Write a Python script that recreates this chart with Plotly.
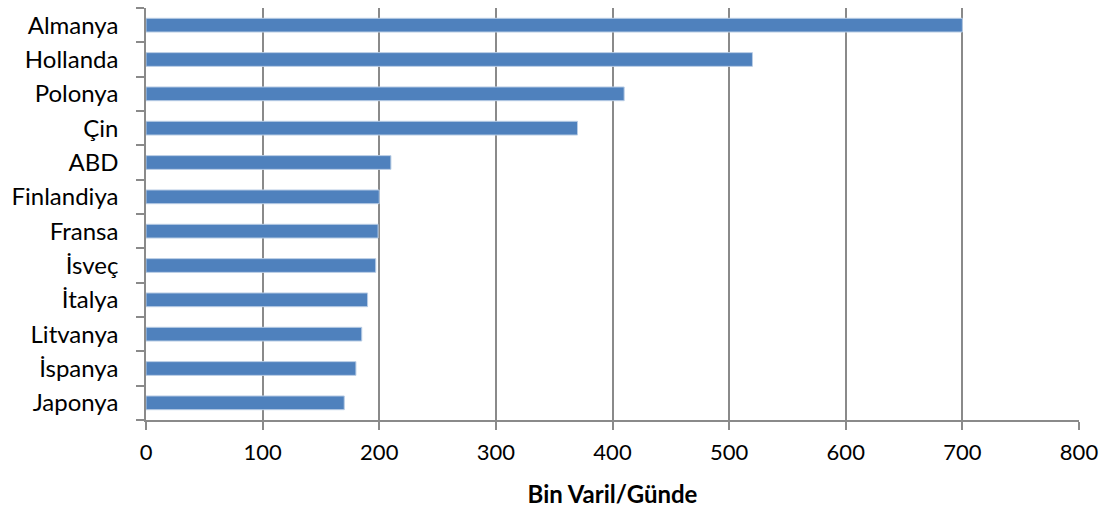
import plotly.graph_objects as go

countries = ["Almanya", "Hollanda", "Polonya", "Çin", "ABD", "Finlandiya",
             "Fransa", "İsveç", "İtalya", "Litvanya", "İspanya", "Japonya"]
values = [700, 520, 410, 370, 210, 200, 199, 197, 190, 185, 180, 170]
x_ticks = [0, 100, 200, 300, 400, 500, 600, 700, 800]
x_title = "Bin Varil/Günde"

grid_col = "#8a8a8a"
font_family = "Lato, 'Open Sans', sans-serif"

fig = go.Figure(go.Bar(
    x=values,
    y=countries,
    orientation="h",
    marker=dict(color="#4F81BD", line=dict(color="#b9cde5", width=1)),
))

fig.update_layout(
    width=1107,
    height=512,
    margin=dict(l=146, r=28, t=8, b=90),
    paper_bgcolor="white",
    plot_bgcolor="white",
    bargap=0.6,
    showlegend=False,
    font=dict(family=font_family, color="#000000", size=20),
)

fig.update_xaxes(
    range=[0, 800],
    tickvals=x_ticks,
    ticktext=[str(v) for v in x_ticks],
    showgrid=True,
    gridcolor=grid_col,
    gridwidth=1.5,
    showline=True,
    linecolor=grid_col,
    linewidth=1.5,
    ticks="outside",
    ticklen=8,
    tickcolor=grid_col,
    tickwidth=1.5,
    tickfont=dict(size=22),
    ticklabelstandoff=4,
    zeroline=False,
    title=dict(text="<b>" + x_title + "</b>", font=dict(size=24), standoff=22),
)

fig.update_yaxes(
    categoryorder="array",
    categoryarray=countries[::-1],
    showgrid=False,
    showline=True,
    linecolor=grid_col,
    linewidth=1.5,
    ticks="outside",
    ticklen=8,
    tickcolor=grid_col,
    tickwidth=1.5,
    tickson="boundaries",
    tickfont=dict(size=24),
    ticklabelstandoff=21,
)

fig.write_html("out.html")
